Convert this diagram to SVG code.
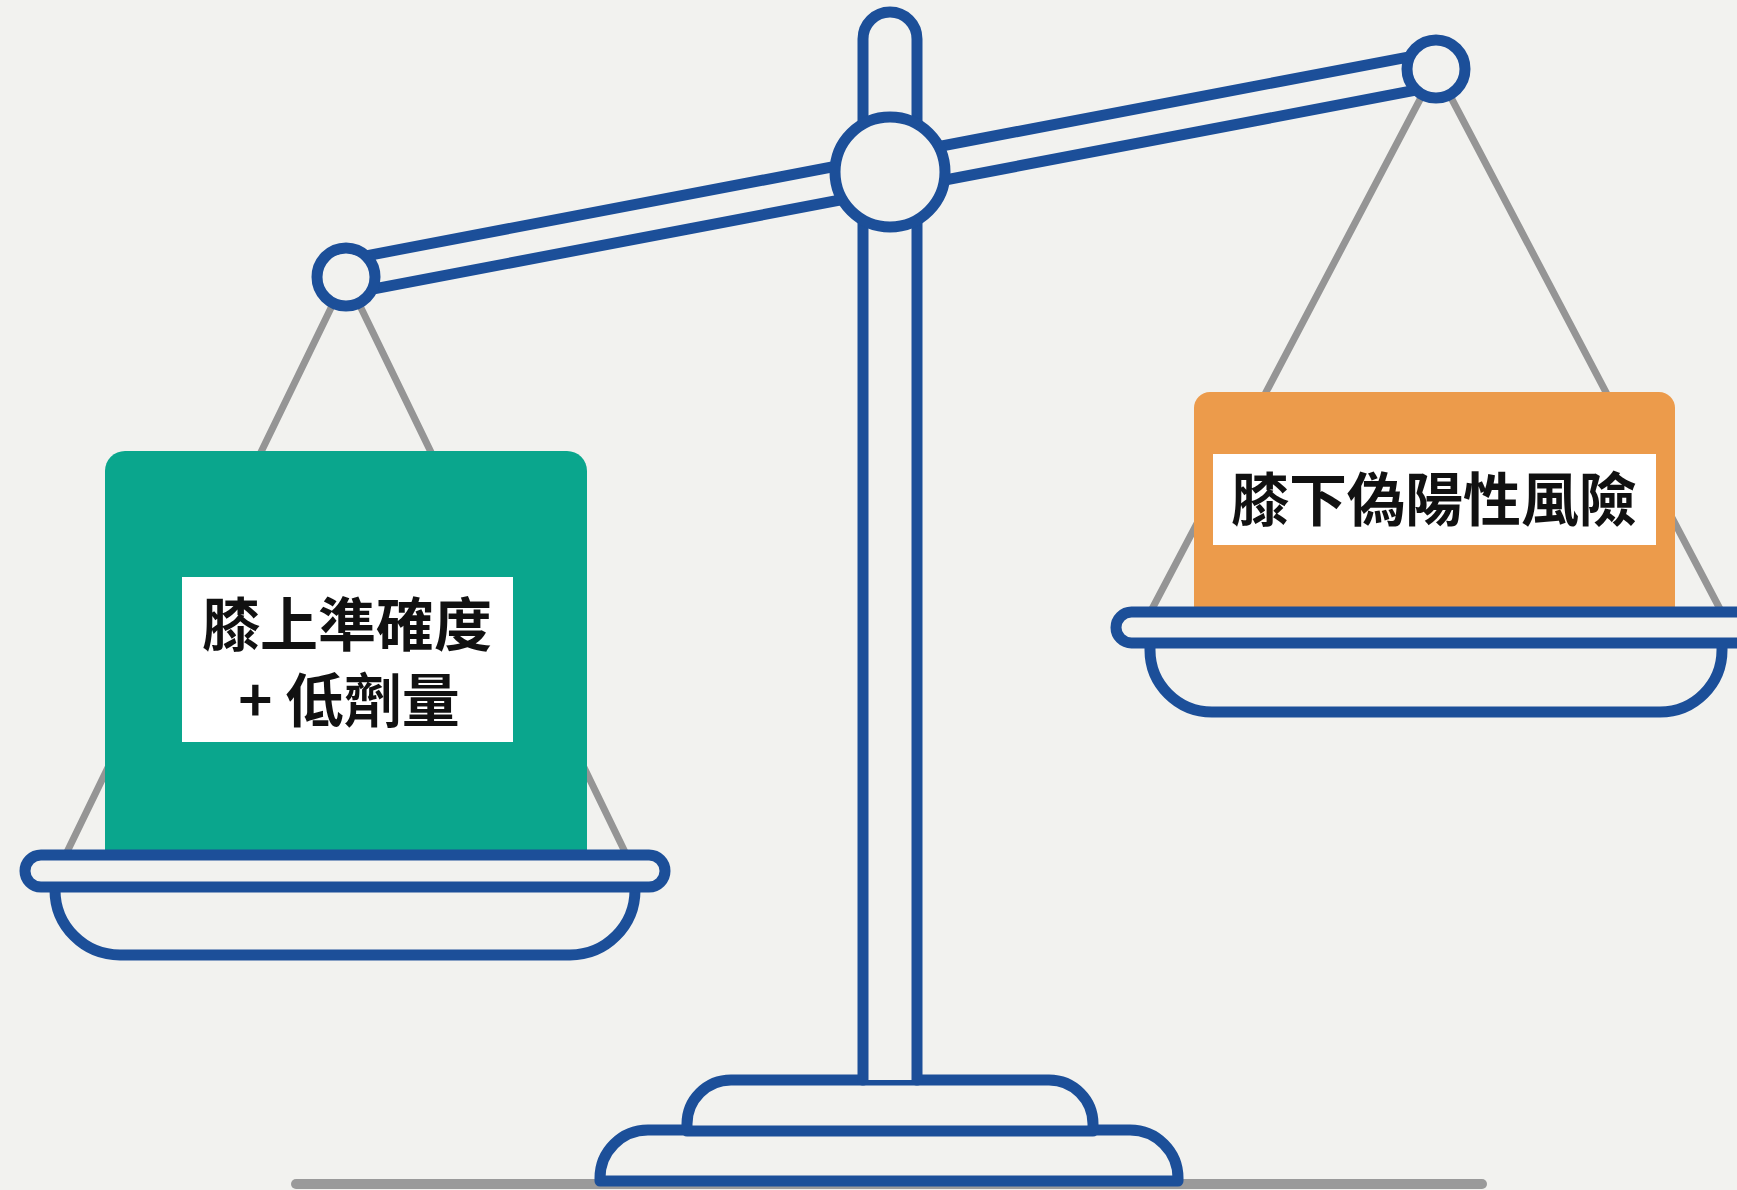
<svg xmlns="http://www.w3.org/2000/svg" width="1737" height="1190" viewBox="0 0 1737 1190">
  <style>
    .frame { fill: #f2f2ef; stroke: #1c4f99; stroke-width: 11; stroke-linejoin: round; stroke-linecap: round; }
    .hanger { stroke: #959595; stroke-width: 7; fill: none; stroke-linecap: round; }
    .label-bg { fill: #ffffff; }
    .label { font-family: "Noto Sans CJK TC", "Noto Sans CJK SC", sans-serif; font-weight: 700; font-size: 58px; fill: #111111; text-anchor: middle; }
  </style>
  <rect width="1737" height="1190" fill="#f2f2ef"/>

  <!-- floor line -->
  <line x1="296" y1="1184" x2="1482" y2="1184" stroke="#9a9a9a" stroke-width="10" stroke-linecap="round"/>

  <!-- stand: stepped base and upright post -->
  <g id="stand">
    <path class="frame" d="M600 1181 V1178 A48 48 0 0 1 648 1130 H1130 A48 48 0 0 1 1178 1178 V1181 Z"/>
    <path class="frame" d="M687 1131 V1124 A44 44 0 0 1 731 1080 H1049 A44 44 0 0 1 1093 1124 V1131 Z"/>
    <path class="frame" d="M863 1080 V39 A27 27 0 0 1 917 39 V1080"/>
  </g>

  <!-- suspension strings from beam ends to pans -->
  <g id="connectors">
    <line class="hanger" x1="346" y1="277" x2="67" y2="852"/>
    <line class="hanger" x1="346" y1="277" x2="625" y2="852"/>
    <line class="hanger" x1="1436" y1="69" x2="1152" y2="609"/>
    <line class="hanger" x1="1436" y1="69" x2="1720" y2="609"/>
  </g>

  <!-- tilted beam with pivot and end joints -->
  <g id="beam">
    <rect class="frame" x="-555" y="-17" width="1110" height="34" transform="translate(891 173) rotate(-10.8)"/>
    <circle class="frame" cx="890" cy="172" r="55"/>
    <circle class="frame" cx="346" cy="277" r="29"/>
    <circle class="frame" cx="1436" cy="69" r="29"/>
  </g>

  <!-- left load -->
  <g id="weight-left">
    <rect x="105" y="451" width="482" height="420" rx="20" fill="#0aa68d"/>
    <rect class="label-bg" x="182" y="577" width="331" height="165"/>
    <text class="label" x="347" y="646">膝上準確度</text>
    <text class="label" x="349" y="722">+ 低劑量</text>
  </g>

  <!-- right load -->
  <g id="weight-right">
    <rect x="1194" y="392" width="481" height="235" rx="16" fill="#ec9b4b"/>
    <rect class="label-bg" x="1213" y="454" width="443" height="91"/>
    <text class="label" x="1434" y="521">膝下偽陽性風險</text>
  </g>

  <!-- left pan -->
  <g id="pan-left">
    <path class="frame" d="M55 880 V890 A65 65 0 0 0 120 955 H570 A65 65 0 0 0 635 890 V880 Z"/>
    <rect class="frame" x="25" y="855" width="640" height="32" rx="16"/>
  </g>

  <!-- right pan -->
  <g id="pan-right">
    <path class="frame" d="M1150 636 V650 A62 62 0 0 0 1212 712 H1660 A62 62 0 0 0 1722 650 V636 Z"/>
    <rect class="frame" x="1116" y="612" width="660" height="31" rx="15.5"/>
  </g>
</svg>
